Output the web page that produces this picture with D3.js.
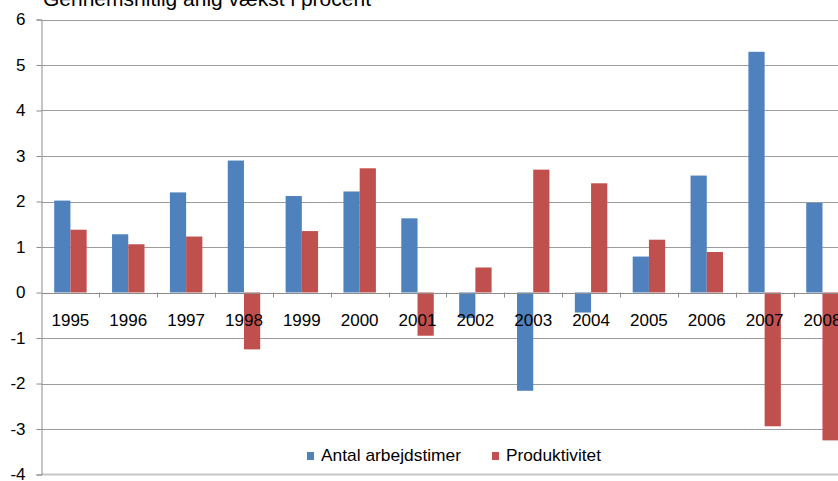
<!DOCTYPE html>
<html>
<head>
<meta charset="utf-8">
<script src="https://cdn.jsdelivr.net/npm/d3@7"></script>
<style>
  body { margin: 0; background: #fff; }
  text { font-family: "Liberation Sans", Arial, sans-serif; fill: #000; }
</style>
</head>
<body>
<script>
const years = ["1995", "1996", "1997", "1998", "1999", "2000", "2001",
  "2002", "2003", "2004", "2005", "2006", "2007", "2008"];
const series = ["Antal arbejdstimer", "Produktivitet"];
const colors = ["#4F81BD", "#C0504D"];
const timer = [2.02, 1.28, 2.2, 2.9, 2.12, 2.22, 1.63, -0.56, -2.16, -0.44, 0.79, 2.57, 5.29, 1.97];
const produktivitet = [1.38, 1.06, 1.23, -1.25, 1.35, 2.73, -0.95, 0.55, 2.7, 2.4, 1.16, 0.89, -2.94, -3.25];
const yTicks = [-4, -3, -2, -1, 0, 1, 2, 3, 4, 5, 6];

const width = 838, height = 481;
const left = 41.5, band = 57.85;

const svg = d3.select("body").append("svg")
  .attr("width", width)
  .attr("height", height);

const x = d3.scaleBand()
  .domain(years)
  .range([left, left + band * years.length]);

const x1 = d3.scaleBand()
  .domain(series)
  .range([12.7, band - 12.7]);

const y = d3.scaleLinear()
  .domain([-4, 6])
  .range([474.5, 19.5]);

// gitterlinjer
svg.selectAll("line.grid")
  .data(yTicks.filter(d => d !== -4 && d !== 0))
  .enter()
  .append("line")
  .attr("class", "grid")
  .attr("x1", left)
  .attr("x2", width)
  .attr("y1", d => Math.round(y(d)) + 0.5)
  .attr("y2", d => Math.round(y(d)) + 0.5)
  .attr("stroke", "#9c9c9c");

// bund-linje
svg.append("line")
  .attr("x1", left)
  .attr("x2", width)
  .attr("y1", y(-4))
  .attr("y2", y(-4))
  .attr("stroke", "#c8c8c8")
  .attr("stroke-width", 2);

// søjler
const rows = years.map((yr, i) => ({ year: yr, values: [timer[i], produktivitet[i]] }));

const groups = svg.selectAll("g.year")
  .data(rows)
  .enter()
  .append("g")
  .attr("class", "year")
  .attr("transform", d => `translate(${x(d.year)},0)`);

groups.selectAll("rect")
  .data(d => d.values.map((v, j) => ({ s: series[j], v: v, c: colors[j] })))
  .enter()
  .append("rect")
  .attr("x", d => x1(d.s))
  .attr("width", x1.bandwidth())
  .attr("y", d => y(Math.max(0, d.v)))
  .attr("height", d => Math.abs(y(d.v) - y(0)))
  .attr("fill", d => d.c);

// 0-akse med tick-marks
svg.append("line")
  .attr("x1", left)
  .attr("x2", width)
  .attr("y1", Math.round(y(0)) + 0.5)
  .attr("y2", Math.round(y(0)) + 0.5)
  .attr("stroke", "#8c8c8c");

svg.selectAll("line.xtick")
  .data(years.slice(1))
  .enter()
  .append("line")
  .attr("class", "xtick")
  .attr("x1", d => Math.round(x(d)) + 0.5)
  .attr("x2", d => Math.round(x(d)) + 0.5)
  .attr("y1", y(0))
  .attr("y2", y(0) + 5)
  .attr("stroke", "#8c8c8c");

// kategori-labels
svg.selectAll("text.year")
  .data(years)
  .enter()
  .append("text")
  .attr("class", "year")
  .attr("x", d => x(d) + band / 2)
  .attr("y", 326)
  .attr("text-anchor", "middle")
  .attr("font-size", 17)
  .text(d => d);

// y-akse
const yAxis = svg.append("g")
  .attr("transform", `translate(${left},0)`)
  .call(d3.axisLeft(y).tickValues(yTicks).tickSize(5).tickPadding(11).tickFormat(d => String(d)));
yAxis.select(".domain").attr("stroke", "#8c8c8c");
yAxis.selectAll(".tick line").attr("stroke", "#8c8c8c");
yAxis.selectAll(".tick text")
  .attr("font-size", 17)
  .attr("font-family", "Liberation Sans, Arial, sans-serif")
  .attr("fill", "#000");

// titel
svg.append("text")
  .attr("x", 43)
  .attr("y", 6)
  .attr("font-size", 21)
  .text("Gennemsnitlig årlig vækst i procent");

// legende
const legend = svg.selectAll("g.legend")
  .data(series)
  .enter()
  .append("g")
  .attr("class", "legend")
  .attr("transform", (d, i) => `translate(${i === 0 ? 307 : 492},0)`);

legend.append("rect")
  .attr("x", 0)
  .attr("y", 452)
  .attr("width", 7)
  .attr("height", 8)
  .attr("fill", (d, i) => colors[i]);

legend.append("text")
  .attr("x", 14)
  .attr("y", 461)
  .attr("font-size", 17)
  .attr("textLength", (d, i) => i === 0 ? 140 : 95)
  .attr("lengthAdjust", "spacingAndGlyphs")
  .text(d => d);
</script>
</body>
</html>
